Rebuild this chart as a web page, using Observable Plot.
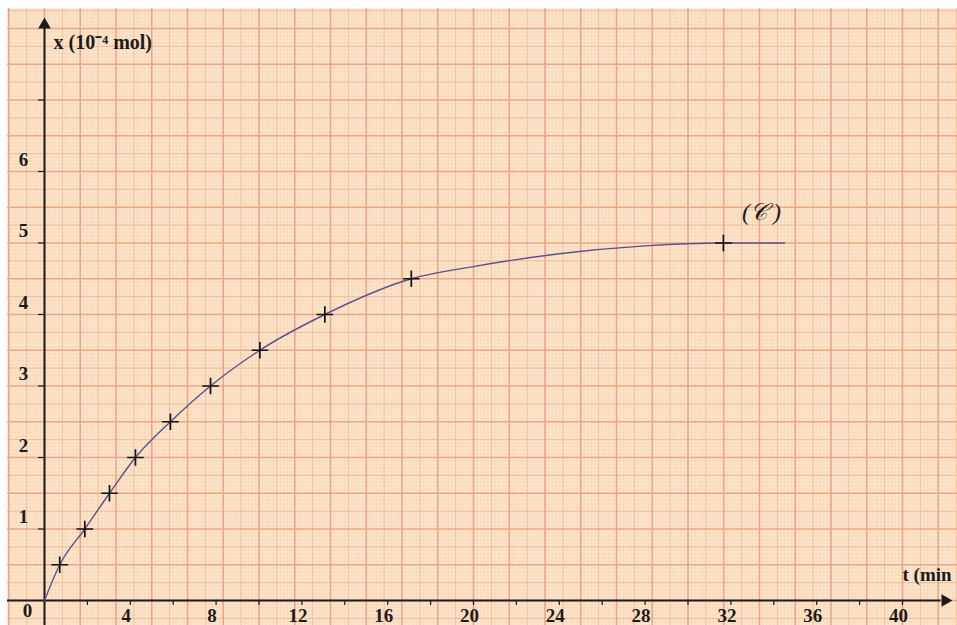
<!DOCTYPE html>
<html>
<head>
<meta charset="utf-8">
<script src="https://cdn.jsdelivr.net/npm/d3@7"></script>
<script src="https://cdn.jsdelivr.net/npm/@observablehq/plot@0.6"></script>
<style>
  html, body { margin: 0; padding: 0; background: #ffffff; overflow: hidden; }
  #chart svg { display: block; }
</style>
</head>
<body>
<div id="chart"></div>
<script>
// ---- Data ----
// measured points (t in min, x in 10^-4 mol)
const tData = [0.71, 1.88, 3.03, 4.24, 5.87, 7.74, 10.04, 13.07, 17.1, 31.65];
const xData = [0.5, 1.0, 1.5, 2.0, 2.5, 3.0, 3.5, 4.0, 4.5, 5.0];
// hand-drawn curve (C)
const curveT = [0, 0.71, 1.88, 3.03, 4.24, 5.87, 7.74, 10.04, 13.07, 17.1, 20, 24, 28, 31.65, 34.5];
const curveX = [0, 0.5, 1.0, 1.5, 2.0, 2.5, 3.0, 3.5, 4.0, 4.5, 4.67, 4.85, 4.96, 5.0, 5.0];
// axis ticks and labels
const xTicks = [2, 4, 6, 8, 10, 12, 14, 16, 18, 20, 22, 24, 26, 28, 30, 32, 34, 36, 38, 40];
const xTickLabels = [4, 8, 12, 16, 20, 24, 28, 32, 36, 40];
const yTicks = [1, 2, 3, 4, 5, 6, 7];
const yTickLabels = [1, 2, 3, 4, 5, 6];
const yAxisTitle = "x (10\u207B\u2074 mol)";
const xAxisTitle = "t (min";
const curveLabel = "(\uD835\uDC9E )";

// ---- layout ----
const W = 957, H = 625;
const mL = 7, mT = 8;
const ox = 44, oy = 600;          // pixel position of origin
const pxPerMin = 21.45, pxPerUnit = 71.5;
const xDomain = [(mL - ox) / pxPerMin, (W - ox) / pxPerMin];
const yDomain = [(oy - H) / pxPerUnit, (oy - mT) / pxPerUnit];

// graph-paper lines (mm paper: major every 5/3 min and 0.5 unit)
const xMinor = d3.range(Math.ceil(xDomain[0] * 6), Math.floor(xDomain[1] * 6) + 1);
const yMinor = d3.range(Math.ceil(yDomain[0] * 20), Math.floor(yDomain[1] * 20) + 1);
const vMinor = xMinor.filter(i => i % 5 !== 0).map(i => i / 6);
const vMid = xMinor.filter(i => i % 5 === 0 && i % 10 !== 0).map(i => i / 6);
const vMajor = xMinor.filter(i => i % 10 === 0).map(i => i / 6);
const hMinor = yMinor.filter(i => i % 5 !== 0).map(i => i / 20);
const hMid = yMinor.filter(i => i % 5 === 0 && i % 10 !== 0).map(i => i / 20);
const hMajor = yMinor.filter(i => i % 10 === 0).map(i => i / 20);

const points = tData.map((t, i) => ({t, x: xData[i]}));
const curve = curveT.map((t, i) => ({t, x: curveX[i]}));

const serif = "Liberation Serif";
const ink = "#1b1b1b";
const txt = {fontFamily: serif, fontWeight: "bold", fontSize: 19, fill: ink};

const chart = Plot.plot({
  width: W,
  height: H,
  marginLeft: mL,
  marginTop: mT,
  marginRight: 0,
  marginBottom: 0,
  x: {domain: xDomain, axis: null},
  y: {domain: yDomain, axis: null},
  style: {background: "#ffffff", fontFamily: serif},
  marks: [
    Plot.frame({fill: "#fde5cb", stroke: null}),
    Plot.ruleX(vMinor, {stroke: "#f6d3b3", strokeWidth: 0.6}),
    Plot.ruleY(hMinor, {stroke: "#f6d3b3", strokeWidth: 0.6}),
    Plot.ruleX(vMid, {stroke: "#f2c09c", strokeWidth: 1.1}),
    Plot.ruleY(hMid, {stroke: "#f2c09c", strokeWidth: 1.1}),
    Plot.ruleX(vMajor, {stroke: "#eba486", strokeWidth: 1.6}),
    Plot.ruleY(hMajor, {stroke: "#eba486", strokeWidth: 1.6}),
    // axes
    Plot.ruleX([0], {y1: yDomain[0], y2: 8.0, stroke: ink, strokeWidth: 2}),
    Plot.ruleY([0], {x1: xDomain[0], x2: 41.8, stroke: ink, strokeWidth: 2}),
    Plot.dot([{t: 0, x: 8.052}], {x: "t", y: "x", symbol: "triangle", r: 4.7, fill: ink, stroke: null}),
    Plot.dot([{t: 41.99, x: 0}], {x: "t", y: "x", symbol: "triangle", r: 4.7, fill: ink, stroke: null, rotate: 90}),
    Plot.ruleX(xTicks, {y1: 0, y2: -5 / pxPerUnit, stroke: ink, strokeWidth: 1.2}),
    Plot.ruleY(yTicks, {x1: -6 / pxPerMin, x2: 0, stroke: ink, strokeWidth: 1.2}),
    // tick labels
    Plot.text(xTickLabels, {x: d => d, y: 0, text: d => String(d), dx: -4, dy: 15, ...txt}),
    Plot.text(yTickLabels, {x: 0, y: d => d, text: d => String(d), dx: -21, dy: -12, ...txt}),
    Plot.text([0], {x: 0, y: 0, text: d => String(d), dx: -17, dy: 10, ...txt}),
    // axis titles
    Plot.text([yAxisTitle], {x: 0, y: 7.8, text: d => d, dx: 9, textAnchor: "start", ...txt, fontSize: 20}),
    Plot.text([xAxisTitle], {x: 40, y: 0, text: d => d, dx: 0, dy: -26, textAnchor: "start", ...txt}),
    // curve and points
    Plot.line(curve, {x: "t", y: "x", curve: "monotone-x", stroke: "#5d4f8e", strokeWidth: 1.4}),
    Plot.dot(points, {x: "t", y: "x", symbol: "plus", r: 5.4, stroke: "#111111", strokeWidth: 1.7}),
    Plot.text([curveLabel], {x: 31.65, y: 5, text: d => d, dx: 38, dy: -31, fontFamily: serif, fontSize: 24, fontStyle: "italic", fill: ink})
  ]
});
document.getElementById("chart").appendChild(chart);
</script>
</body>
</html>
